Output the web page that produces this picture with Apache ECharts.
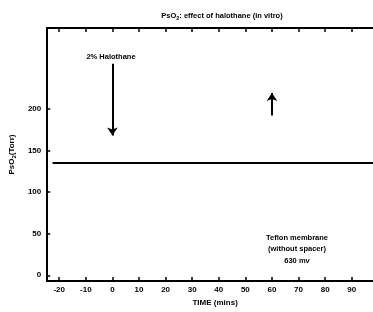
<!DOCTYPE html>
<html>
<head>
<meta charset="utf-8">
<script src="https://cdn.jsdelivr.net/npm/echarts@6/dist/echarts.min.js"></script>
<style>
  html, body { margin: 0; padding: 0; background: #fff; }
  #main { width: 373px; height: 312px; }
</style>
</head>
<body>
<div id="main"></div>
<script>
// time axis (mins)
var timeTicks = [-20, -10, 0, 10, 20, 30, 40, 50, 60, 70, 80, 90];
var pso2Ticks = [0, 50, 100, 150, 200];
// PsO2 trace (Torr)
var traceTime = [-22.5, 0, 30, 60, 98];
var tracePso2 = [135, 135, 135, 135, 135];
// arrows: [time, from, to]
var halothaneOn = [0, 254, 168];
var halothaneOff = [60, 192, 219];

var fnt = "'Liberation Sans', 'DejaVu Sans', sans-serif";

var myChart = echarts.init(document.getElementById("main"));

var option = {
  animation: false,
  backgroundColor: "#fff",
  grid: { left: 44, right: 0, top: 28, bottom: 24 },
  xAxis: [
    {
      type: "value",
      min: -24.5,
      max: 98,
      position: "bottom",
      axisLine: { show: true, onZero: false, lineStyle: { color: "#000", width: 2 } },
      axisTick: { inside: true, length: 4, customValues: timeTicks, lineStyle: { color: "#000", width: 1.5 } },
      axisLabel: {
        customValues: timeTicks, margin: 5, color: "#000",
        fontSize: 8, fontWeight: "bold", fontFamily: fnt
      },
      splitLine: { show: false },
      name: "TIME (mins)",
      nameLocation: "middle",
      nameGap: 14,
      nameTextStyle: { color: "#000", fontSize: 8, fontWeight: "bold", fontFamily: fnt, padding: [0, 0, 0, 10] }
    },
    {
      type: "value",
      min: -24.5,
      max: 98,
      position: "top",
      axisLine: { show: true, onZero: false, lineStyle: { color: "#000", width: 2 } },
      axisTick: { inside: true, length: 4, customValues: timeTicks, lineStyle: { color: "#000", width: 1.5 } },
      axisLabel: { show: false },
      splitLine: { show: false }
    }
  ],
  yAxis: {
    type: "value",
    min: -7,
    max: 297,
    axisLine: { show: true, onZero: false, lineStyle: { color: "#000", width: 2 } },
    axisTick: { inside: true, length: 3, customValues: pso2Ticks, lineStyle: { color: "#000", width: 1.5 } },
    axisLabel: {
      customValues: pso2Ticks, margin: 6, color: "#000",
      fontSize: 8, fontWeight: "bold", fontFamily: fnt
    },
    splitLine: { show: false },
    name: "PsO{s|2}(Torr)",
    nameLocation: "middle",
    nameGap: 17,
    nameTextStyle: {
      color: "#000", fontSize: 8, fontWeight: "bold", fontFamily: fnt,
      rich: { s: { fontSize: 6, fontWeight: "bold", fontFamily: fnt, verticalAlign: "bottom", padding: [4, 0, 0, 0] } }
    }
  },
  series: [
    {
      type: "line",
      data: traceTime.map(function (t, i) { return [t, tracePso2[i]]; }),
      symbol: "none",
      lineStyle: { color: "#000", width: 2 }
    },
    {
      type: "lines",
      coordinateSystem: "cartesian2d",
      symbol: ["none", "arrow"],
      symbolSize: 8,
      lineStyle: { color: "#000", width: 2, opacity: 1 },
      data: [
        { coords: [[halothaneOn[0], halothaneOn[1]], [halothaneOn[0], halothaneOn[2]]] },
        { coords: [[halothaneOff[0], halothaneOff[1]], [halothaneOff[0], halothaneOff[2]]] }
      ]
    }
  ],
  graphic: [
    {
      type: "text", x: 222, y: 16,
      style: {
        text: "PsO{s|2}: effect of halothane (in vitro)", fill: "#000",
        font: "bold 7.5px " + fnt, textAlign: "center", textVerticalAlign: "middle",
        rich: { s: { font: "bold 5.5px " + fnt, padding: [5, 0, 0, 0] } }
      }
    },
    {
      type: "text", x: 111, y: 57,
      style: {
        text: "2% Halothane", fill: "#000",
        font: "bold 7.5px " + fnt, textAlign: "center", textVerticalAlign: "middle"
      }
    },
    {
      type: "text", x: 297, y: 249,
      style: {
        text: "Teflon membrane\n(without spacer)\n630 mv", fill: "#000",
        font: "bold 7.5px " + fnt, lineHeight: 11.5, textAlign: "center", textVerticalAlign: "middle"
      }
    }
  ]
};
myChart.setOption(option);
</script>
</body>
</html>
